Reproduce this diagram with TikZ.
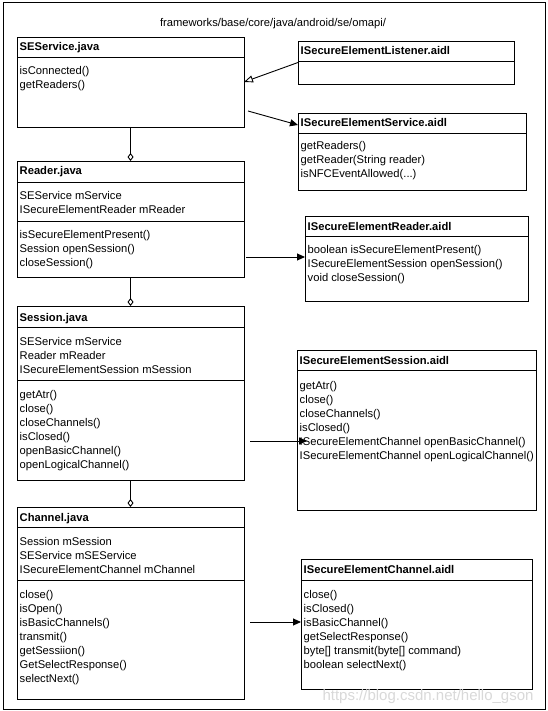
\documentclass[tikz,border=0pt]{standalone}
\usepackage{fontspec}
\setmainfont{Liberation Sans}
\usetikzlibrary{arrows.meta,calc}
\begin{document}
\begin{tikzpicture}[x=1pt,y=-1pt,
  lw/.style={line width=0.9pt},
  box/.style={draw, lw, anchor=north west, inner sep=0pt, outer sep=0pt},
  sepline/.style={lw},
  txt/.style={anchor=base west, inner sep=0pt, font=\fontsize{11.2}{14}\selectfont},
  ttl/.style={anchor=base west, inner sep=0pt, font=\fontsize{11.2}{14}\selectfont\bfseries},
  opentri/.style={lw, -{Triangle[open,length=9pt,width=7pt]}},
  filltri/.style={lw, -{Triangle[length=8pt,width=7pt]}},
  aggr/.style={lw, -{Diamond[open,length=8pt,width=6pt]}}]
\useasboundingbox (0,0) rectangle (547,711);
\fill[white] (0,0) rectangle (547,711);
\draw[lw] (3,2) rectangle (545,709);
\node[txt, anchor=base] (title) at (273,27) {frameworks/base/core/java/android/se/omapi/};

% SEService.java
\node[box, minimum width=227pt, minimum height=90pt] (se) at (17,37) {};
\draw[sepline] (se.west |- 0,57) -- (se.east |- 0,57);
\node[ttl] (seT) at (19.5,51) {SEService.java};
\foreach \t [count=\i] in {isConnected(), getReaders()}
  \node[txt] (seM\i) at (19.5,{61+14*\i}) {\t};

% ISecureElementListener.aidl
\node[box, minimum width=216pt, minimum height=43pt] (lis) at (298,41) {};
\draw[sepline] (lis.west |- 0,61) -- (lis.east |- 0,61);
\node[ttl] (lisT) at (300.5,55) {ISecureElementListener.aidl};

% ISecureElementService.aidl
\node[box, minimum width=228pt, minimum height=77pt] (svc) at (298,113) {};
\draw[sepline] (svc.west |- 0,133) -- (svc.east |- 0,133);
\node[ttl] (svcT) at (300.5,127) {ISecureElementService.aidl};
\node[txt] (svcM1) at (300.5,150) {getReaders()};
\node[txt] (svcM2) at (300.5,164) {getReader(String reader)};
\node[txt] (svcM3) at (300.5,178) {isNFCEventAllowed(...)};

% Reader.java
\node[box, minimum width=227pt, minimum height=116pt] (rd) at (17,161) {};
\draw[sepline] (rd.west |- 0,182) -- (rd.east |- 0,182);
\draw[sepline] (rd.west |- 0,221) -- (rd.east |- 0,221);
\node[ttl] (rdT) at (19.5,175) {Reader.java};
\foreach \t [count=\i] in {SEService mService, ISecureElementReader mReader}
  \node[txt] (rdF\i) at (19.5,{186+14*\i}) {\t};
\foreach \t [count=\i] in {isSecureElementPresent(), Session openSession(), closeSession()}
  \node[txt] (rdM\i) at (19.5,{224+14*\i}) {\t};

% ISecureElementReader.aidl
\node[box, minimum width=223pt, minimum height=85pt] (rda) at (305,216) {};
\draw[sepline] (rda.west |- 0,236) -- (rda.east |- 0,236);
\node[ttl] (rdaT) at (307.5,230) {ISecureElementReader.aidl};
\foreach \t [count=\i] in {boolean isSecureElementPresent(), ISecureElementSession openSession(), void closeSession()}
  \node[txt] (rdaM\i) at (307.5,{239+14*\i}) {\t};

% Session.java
\node[box, minimum width=227pt, minimum height=174pt] (ss) at (17,306) {};
\draw[sepline] (ss.west |- 0,327) -- (ss.east |- 0,327);
\draw[sepline] (ss.west |- 0,380) -- (ss.east |- 0,380);
\node[ttl] (ssT) at (19.5,321) {Session.java};
\foreach \t [count=\i] in {SEService mService, Reader mReader, ISecureElementSession mSession}
  \node[txt] (ssF\i) at (19.5,{331+14*\i}) {\t};
\foreach \t [count=\i] in {getAtr(), close(), closeChannels(), isClosed(), openBasicChannel(), openLogicalChannel()}
  \node[txt] (ssM\i) at (19.5,{384+14*\i}) {\t};

% ISecureElementSession.aidl
\node[box, minimum width=239pt, minimum height=160pt] (ssa) at (297,350) {};
\draw[sepline] (ssa.west |- 0,370) -- (ssa.east |- 0,370);
\node[ttl] (ssaT) at (299.5,364) {ISecureElementSession.aidl};
\foreach \t [count=\i] in {getAtr(), close(), closeChannels(), isClosed(), ISecureElementChannel openBasicChannel(), ISecureElementChannel openLogicalChannel()}
  \node[txt] (ssaM\i) at (299.5,{375+14*\i}) {\t};

% Channel.java
\node[box, minimum width=227pt, minimum height=192pt] (ch) at (17,507) {};
\draw[sepline] (ch.west |- 0,527) -- (ch.east |- 0,527);
\draw[sepline] (ch.west |- 0,580) -- (ch.east |- 0,580);
\node[ttl] (chT) at (19.5,521) {Channel.java};
\foreach \t [count=\i] in {Session mSession, SEService mSEService, ISecureElementChannel mChannel}
  \node[txt] (chF\i) at (19.5,{531+14*\i}) {\t};
\foreach \t [count=\i] in {close(), isOpen(), isBasicChannels(), transmit(), getSessiion(), GetSelectResponse(), selectNext()}
  \node[txt] (chM\i) at (19.5,{584+14*\i}) {\t};

% ISecureElementChannel.aidl
\node[box, minimum width=231pt, minimum height=130pt] (cha) at (301,559) {};
\draw[sepline] (cha.west |- 0,580) -- (cha.east |- 0,580);
\node[ttl] (chaT) at (303.5,573) {ISecureElementChannel.aidl};
\foreach \t [count=\i] in {close(), isClosed(), isBasicChannel(), getSelectResponse(), {byte[] transmit(byte[] command)}, boolean selectNext()}
  \node[txt] (chaM\i) at (303.5,{584+14*\i}) {\t};

% connectors
\draw[opentri] (lis.west) -- (se.east);
\coordinate (c1) at (248,111);
\draw[filltri] (c1) -- (svc.west |- 0,125);
\coordinate (c2) at (246,257);
\draw[filltri] (c2) -- (rda.west |- c2);
\coordinate (c3) at (250,441);
\coordinate (c3e) at (307,441);
\draw[filltri] (c3) -- (c3e);
\coordinate (c4) at (250,622);
\draw[filltri] (c4) -- (cha.west |- c4);
\draw[aggr] (se.south) -- (rd.north);
\draw[aggr] (rd.south) -- (ss.north);
\draw[aggr] (ss.south) -- (ch.north);

\node[anchor=base, inner sep=0pt, font=\fontsize{15}{15}\selectfont, text=black!15] (wm) at (428,700) {https://blog.csdn.net/hello\_gson};
\end{tikzpicture}
\end{document}
